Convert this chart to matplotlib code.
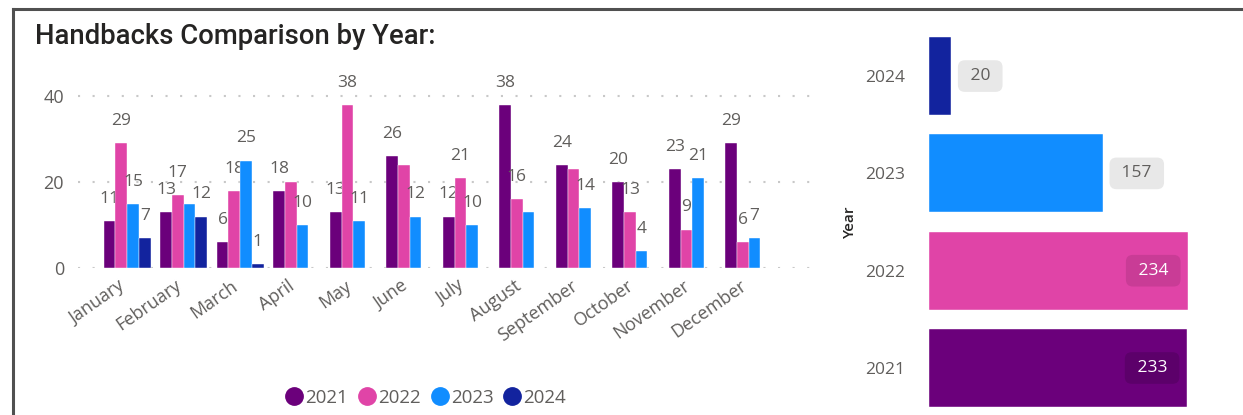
import matplotlib.pyplot as plt
import matplotlib.transforms as mtransforms
from matplotlib.lines import Line2D
import numpy as np

# data
months = ['January', 'February', 'March', 'April', 'May', 'June', 'July',
          'August', 'September', 'October', 'November', 'December']
years = ['2021', '2022', '2023', '2024']
vals_2021 = [11, 13, 6, 18, 13, 26, 12, 38, 24, 20, 23, 29]
vals_2022 = [29, 17, 18, 20, 38, 24, 21, 16, 23, 13, 9, 6]
vals_2023 = [15, 15, 25, 10, 11, 12, 10, 13, 14, 4, 21, 7]
vals_2024 = [7, 12, 1, None, None, None, None, None, None, None, None, None]
totals = [233, 234, 157, 20]
# labels that the report hides (year, month)
hidden_labels = [('2023', 'February'), ('2022', 'April'), ('2022', 'June'),
                 ('2023', 'August'), ('2022', 'September')]

colors = ['#6B007B', '#E044A7', '#118DFF', '#12239E']
label_box = ['#5C006A', '#C93C96', '#E8E8E8', '#E8E8E8']
gray = '#605E5C'
font = ['Open Sans', 'DejaVu Sans']

plt.rcParams['font.family'] = font

fig = plt.figure(figsize=(12.43, 4.15), dpi=100)

# frame lines (left + top)
fig.add_artist(Line2D([13 / 1243, 13 / 1243], [0, 1 - 9 / 415], color='#505050', lw=2.2))
fig.add_artist(Line2D([13 / 1243, 1], [1 - 9 / 415, 1 - 9 / 415], color='#505050', lw=2.2))

fig.text(35 / 1243, 1 - 44 / 415, 'Handbacks Comparison by Year:', fontsize=19.8,
         family=['Roboto', 'DejaVu Sans'], fontweight='medium', color='#252423',
         va='baseline', ha='left')

# ---------- clustered columns ----------
ax = fig.add_axes([78 / 1243, (415 - 268.3) / 415, 742 / 1243, 198 / 415])
series = [vals_2021, vals_2022, vals_2023, vals_2024]
x = np.arange(len(months))
w = 0.207
for k, (yr, vals) in enumerate(zip(years, series)):
    v = np.array([np.nan if a is None else a for a in vals], dtype=float)
    pos = x + (k - 1.5) * w
    ax.bar(pos, v, width=w, color=colors[k], edgecolor='white', linewidth=0.3, zorder=3)
    for px, val, m in zip(pos, vals, months):
        if val is None or (yr, m) in hidden_labels:
            continue
        ax.annotate(str(val), (px, val), xytext=(0, 16), textcoords='offset points',
                    ha='center', va='center', fontsize=12.5, color=gray)

ax.set_xlim(-0.87, 12.26)
ax.set_ylim(0, 46)
ax.set_yticks([0, 20, 40])
ax.yaxis.grid(True, linestyle=(0, (1, 6)), linewidth=1.5, color='#C8C8C8', zorder=0)
ax.set_xticks(x)
ax.set_xticklabels(months, rotation=35, ha='right', rotation_mode='anchor')
ax.tick_params(axis='both', length=0, labelsize=13, labelcolor=gray)
ax.tick_params(axis='y', pad=10)
ax.tick_params(axis='x', pad=6)
shift = mtransforms.ScaledTranslation(-9 / 100, 0, fig.dpi_scale_trans)
for lab in ax.get_xticklabels():
    lab.set_transform(lab.get_transform() + shift)
for s in ax.spines.values():
    s.set_visible(False)

handles = [Line2D([], [], marker='o', linestyle='none', markersize=12.5,
                  markerfacecolor=c, markeredgecolor=c) for c in colors]
fig.legend(handles, years, loc='center', bbox_to_anchor=(426 / 1243, 1 - 398 / 415),
           ncol=4, frameon=False, fontsize=13.5, handlelength=0.9, handletextpad=0.15,
           columnspacing=0.55, labelcolor=gray)

# ---------- totals by year ----------
ax2 = fig.add_axes([929 / 1243, -0.004, 259 / 1243, 0.9614])
yp = np.arange(len(years))
ax2.barh(yp, totals, height=0.8, color=colors, edgecolor='white', linewidth=0.3)
ax2.set_xlim(0, 234)
ax2.set_ylim(-0.5, 3.6)
ax2.set_yticks(yp)
ax2.set_yticklabels(years)
ax2.set_xticks([])
ax2.tick_params(axis='y', length=0, labelsize=12.5, labelcolor=gray, pad=17)
for s in ax2.spines.values():
    s.set_visible(False)
for i, t in enumerate(totals):
    inside = t > 200
    ax2.annotate(f' {t} ', (t, i), xytext=(-11 if inside else 10.5, 0),
                 textcoords='offset points', ha='right' if inside else 'left',
                 va='center', fontsize=12.5, color='white' if inside else gray,
                 bbox=dict(boxstyle='round,pad=0.45,rounding_size=0.4',
                           fc=label_box[i], ec='none'))

fig.text(850 / 1243, 1 - 222 / 415, 'Year', rotation=90, ha='center', va='center',
         fontsize=11, color='#252423', fontweight='semibold')

fig.savefig('out.png', dpi=100)
